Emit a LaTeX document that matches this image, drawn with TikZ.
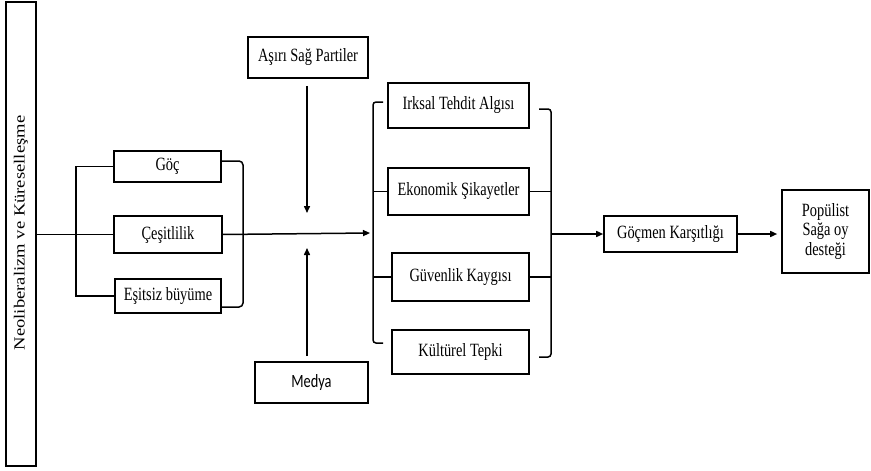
\documentclass[tikz,border=0pt]{standalone}
\usepackage{fontspec}
\usepackage{graphicx}
\setmainfont{Liberation Serif}
\newfontfamily\calfont{Carlito}
\usetikzlibrary{arrows.meta}
\newcommand{\vstr}[1]{\scalebox{1}[1.3]{#1}}
\tikzset{
  box/.style={draw, line width=1.6pt, inner sep=0pt, align=center, font=\fontsize{14.4}{16}\selectfont},
  ln/.style={line width=1.5pt},
  arr/.style={line width=1.5pt, -{Triangle[length=7pt,width=6pt]}},
}
\begin{document}
\begin{tikzpicture}[x=1pt,y=-1pt]
\useasboundingbox (0,0) rectangle (871,471);
% left tall box
\node[box, minimum width=30pt, minimum height=464pt] (L) at (21,234) {};
\node[rotate=90, font=\fontsize{15.5}{17}\selectfont] (Lt) at (21,233) {\scalebox{1.2}[1]{Neoliberalizm ve Küreselleşme}};
% left group
\node[box, minimum width=107pt, minimum height=31pt] (Goc) at (167.5,166.5) {\vstr{Göç}};
\node[box, minimum width=108pt, minimum height=37pt] (Ces) at (168,234.5) {\vstr{Çeşitlilik}};
\node[box, minimum width=106pt, minimum height=34pt] (Esit) at (168,296) {\vstr{Eşitsiz büyüme}};
% moderators
\node[box, minimum width=120pt, minimum height=41pt] (Asr) at (308,57.5) {\vstr{Aşırı Sağ Partiler}};
\node[box, minimum width=113pt, minimum height=41pt] (Med) at (311.5,382.5) {\vstr{\calfont Medya}};
% right group
\node[box, minimum width=141pt, minimum height=45pt] (Irk) at (458.5,105.5) {\vstr{Irksal Tehdit Algısı}};
\node[box, minimum width=141pt, minimum height=47pt] (Eko) at (458.5,191.5) {\vstr{Ekonomik Şikayetler}};
\node[box, minimum width=137pt, minimum height=48pt] (Guv) at (460.5,277) {\vstr{Güvenlik Kaygısı}};
\node[box, minimum width=137pt, minimum height=44pt] (Kul) at (460.5,352) {\vstr{Kültürel Tepki}};
% outcomes
\node[box, minimum width=133pt, minimum height=36pt] (Gm) at (670.5,234) {\vstr{Göçmen Karşıtlığı}};
\node[box, minimum width=87pt, minimum height=83pt] (Pop) at (825.5,231.5) {\vstr{\begin{tabular}{@{}c@{}}Popülist\\[-1pt] Sağa oy\\[-1pt] desteği\end{tabular}}};
% coordinates
\coordinate (lbx) at (76,0);
\coordinate (rbx) at (243,0);
\coordinate (gocR) at ([yshift=5.5pt]Goc.east);
\coordinate (esiR) at ([yshift=-11pt]Esit.east);
\coordinate (asEnd) at (307,213);
\coordinate (meEnd) at (307,248);
\coordinate (gTL) at (383,102);
\coordinate (gBL) at (383,343);
\coordinate (gLx) at (373,0);
\coordinate (gTR) at (539,109);
\coordinate (gBR) at (539,357);
\coordinate (gRx) at (551,0);
\coordinate (arrTip) at (370,233);
% left connectors
\draw[ln] (L.east |- Ces.west) -- (Ces.west);
\draw[ln] (Goc.west) -| (lbx |- Esit.west) -- (Esit.west);
\draw[ln, rounded corners=4pt] (gocR) -| (rbx |- esiR) -- (esiR);
\draw[arr] (Ces.east) -- (arrTip);
% moderator arrows
\draw[arr] ([yshift=-7pt]Asr.south -| asEnd) -- (asEnd);
\draw[arr] ([yshift=5pt]Med.north -| meEnd) -- (meEnd);
% right group brackets
\draw[ln, rounded corners=3pt] (gTL) -| (gLx |- gBL) -- (gBL);
\draw[ln] (Eko.west) -- (Eko.west -| gLx);
\draw[ln] (Guv.west) -- (Guv.west -| gLx);
\draw[ln, rounded corners=3pt] (gTR) -| (gRx |- gBR) -- (gBR);
\draw[ln] (Eko.east) -- (Eko.east -| gRx);
\draw[ln] (Guv.east) -- (Guv.east -| gRx);
% outcome arrows
\draw[arr] (Gm.west -| gRx) -- (Gm.west);
\draw[arr, shorten >=4pt] (Gm.east) -- (Gm.east -| Pop.west);
\end{tikzpicture}
\end{document}
